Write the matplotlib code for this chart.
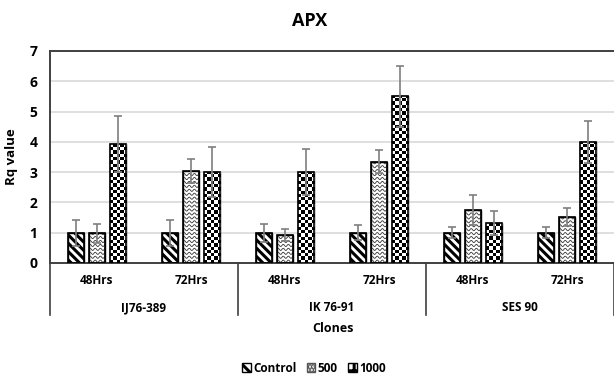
import matplotlib.pyplot as plt
import numpy as np
from matplotlib.patches import Patch
import matplotlib.transforms as mtransforms

plt.rcParams['font.family'] = ['Open Sans', 'DejaVu Sans']
plt.rcParams['font.weight'] = 'bold'
plt.rcParams['hatch.linewidth'] = 2.2

clones = ['IJ76-389', 'IK 76-91', 'SES 90']
times = ['48Hrs', '72Hrs']
series = ['Control', '500', '1000']

# values per (clone, time) slot, in order IJ48, IJ72, IK48, IK72, SES48, SES72
control = [1.0, 1.0, 1.0, 1.0, 1.0, 1.0]
v500 = [0.98, 3.05, 0.93, 3.35, 1.75, 1.51]
v1000 = [3.93, 3.0, 3.0, 5.5, 1.33, 4.0]
err_control = [0.43, 0.43, 0.3, 0.24, 0.18, 0.18]
err_500 = [0.32, 0.4, 0.2, 0.39, 0.5, 0.3]
err_1000 = [0.93, 0.83, 0.76, 1.0, 0.39, 0.7]

values = [control, v500, v1000]
errors = [err_control, err_500, err_1000]

fig = plt.figure(figsize=(6.14, 3.75), dpi=100)
ax = fig.add_axes([50 / 614, 1 - 263 / 375, 564 / 614, 212 / 375])

x = np.arange(len(control))
width = 0.175
step = 0.225

ax.set_xlim(-0.5, 5.5)
ax.set_ylim(0, 7)
ax.set_yticks(range(8))
ax.yaxis.grid(True, color='#d9d9d9', linewidth=1.2)
ax.set_axisbelow(True)

for i, (vals, errs) in enumerate(zip(values, errors)):
    pos = x + (i - 1) * step
    hatch = '\\\\\\\\' if i == 0 else None
    bars = ax.bar(pos, vals, width, color='white', edgecolor='black',
                  hatch=hatch, linewidth=1.0, zorder=2)
    for b in bars:
        x0, w, h = b.get_x(), b.get_width(), b.get_height()
        if i == 1:
            # wavy fill
            xs = np.linspace(x0, x0 + w, 80)
            for yb in np.arange(0.06, h + 0.12, 0.13):
                ys = yb + 0.035 * np.sin(2 * np.pi * (xs - x0) / 0.055)
                ln, = ax.plot(xs, ys, color='#333333', linewidth=0.6, zorder=3)
                ln.set_clip_path(b)
        elif i == 2:
            nx = 5
            cell_y = (w / nx) * 94.0 / 30.3
            ny = int(np.ceil(h / cell_y))
            board = (np.add.outer(np.arange(ny), np.arange(nx)) % 2).astype(float)
            im = ax.imshow(board, cmap='gray', extent=(x0, x0 + w, 0, ny * cell_y),
                           origin='lower', interpolation='nearest', aspect='auto',
                           zorder=3)
            im.set_clip_path(b)
    ax.bar(pos, vals, width, fill=False, edgecolor='black', linewidth=1.2, zorder=4)
    ax.errorbar(pos, vals, yerr=errs, fmt='none', ecolor='#7f7f7f',
                elinewidth=1.2, capsize=3, capthick=1.2, zorder=5)

ax.set_xlim(-0.5, 5.5)
ax.set_ylim(0, 7)

for s in ['left', 'top', 'bottom']:
    ax.spines[s].set_color('#404040')
    ax.spines[s].set_linewidth(1.4)
ax.spines['right'].set_visible(False)

ax.set_xticks([])
ax.tick_params(axis='y', length=0, labelsize=10, pad=9)
for lab in ax.get_yticklabels():
    lab.set_fontweight('bold')
ax.set_ylabel('Rq value', fontsize=9.5, fontweight='bold')
ax.yaxis.set_label_coords(-(50 - 18) / 564, 0.5)

trans = mtransforms.blended_transform_factory(ax.transData, ax.transAxes)
for xv in [-0.5, 1.5, 3.5, 5.5]:
    ax.plot([xv, xv], [0, -0.245], color='#404040', linewidth=1.2,
            transform=trans, clip_on=False)
for k in range(len(x)):
    ax.text(x[k], -(281 - 263) / 212, times[k % 2], transform=trans,
            ha='center', va='center', fontsize=8.5, fontweight='bold')
for j, c in enumerate(clones):
    ax.text(2 * j + 0.5, -(307.5 - 263) / 212, c, transform=trans,
            ha='center', va='center', fontsize=8.5, fontweight='bold')
fig.text(333 / 614, 1 - 329 / 375, 'Clones', ha='center', va='center',
         fontsize=9, fontweight='bold')

fig.text(310 / 614, 1 - 21 / 375, 'APX', ha='center', va='center',
         fontsize=13, fontweight='bold')

handles = [Patch(facecolor='white', edgecolor='black', hatch='\\\\\\'),
           Patch(facecolor='white', edgecolor='#555555', hatch='.....'),
           Patch(facecolor='white', edgecolor='black', hatch='++')]
fig.legend(handles, series, loc='center', bbox_to_anchor=(314 / 614, 1 - 368 / 375),
           ncol=3, frameon=False, handlelength=0.7, handleheight=0.7,
           handletextpad=0.2, columnspacing=0.9, prop={'weight': 'bold', 'size': 8.5})

fig.savefig('out.png', dpi=100)
